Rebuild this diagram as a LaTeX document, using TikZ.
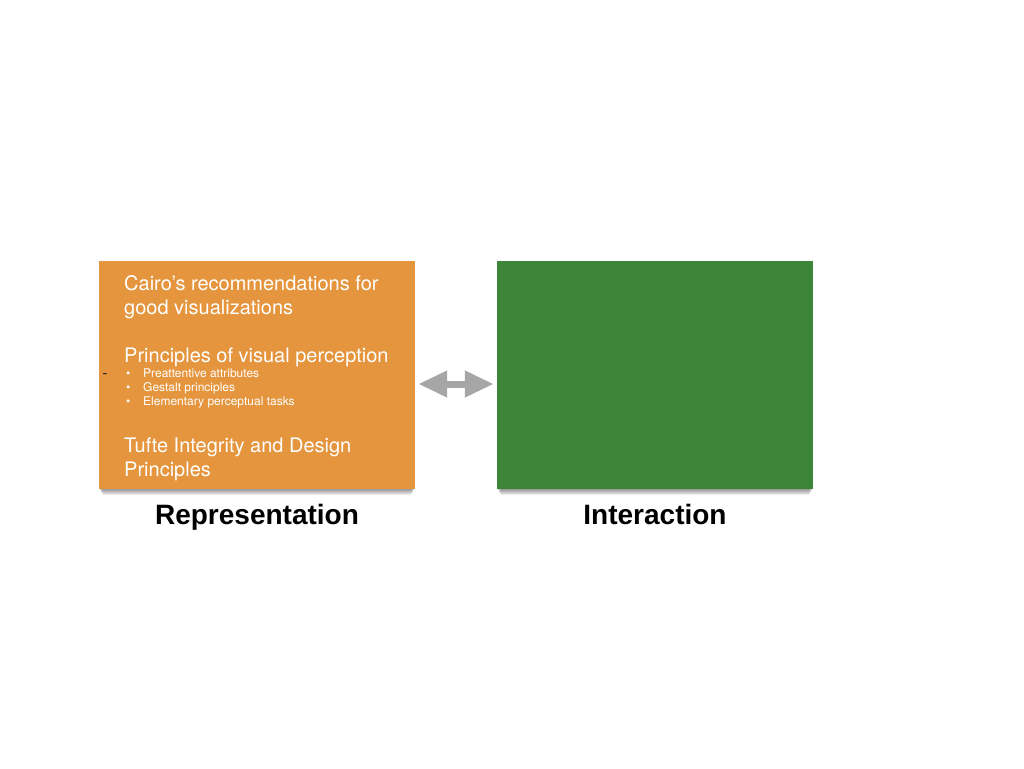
\documentclass[tikz,border=0pt]{standalone}
\usepackage{fontspec}
\setmainfont{TeX Gyre Heros}
\newfontfamily\labelfont{Liberation Sans}
\usetikzlibrary{arrows.meta,positioning}
\definecolor{boxorange}{HTML}{E5953D}
\definecolor{boxgreen}{HTML}{3C8539}
\definecolor{arrowgray}{HTML}{A6A6A6}
\tikzset{
  panel/.style={minimum width=316pt,minimum height=228pt,inner sep=0pt},
  shadowlayer/.style={fill=black,opacity=0.08},
  boxtext/.style={text=white,anchor=base west,inner sep=0pt,font=\fontsize{20}{24}\selectfont},
  bullettext/.style={text=white,anchor=base west,inner sep=0pt,font=\fontsize{12}{14}\selectfont},
  caption/.style={anchor=base,font=\labelfont\bfseries\fontsize{28}{32}\selectfont,text=black},
}
\begin{document}
\begin{tikzpicture}[x=1pt,y=-1pt]
\useasboundingbox[fill=white] (0,0) rectangle (1024,768);
% soft shadows
\foreach \d in {1,2,3,4,5,6}{
  \fill[shadowlayer] (99+\d*0.6,262) rectangle (415-\d*0.6,489+\d);
  \fill[shadowlayer] (497+\d*0.6,262) rectangle (813-\d*0.6,489+\d);
}
\node[panel,fill=boxorange] (rep) at (257,375) {};
\node[panel,fill=boxgreen] (int) at (655,375) {};
\node[boxtext] (t1) at (124,290) {Cairo’s recommendations for};
\node[boxtext] (t2) at (124,314) {good visualizations};
\node[boxtext] (t3) at (124,362) {Principles of visual perception};
\node[bullettext] (b1) at (126,377) {•};
\node[bullettext] (b2) at (126,391) {•};
\node[bullettext] (b3) at (126,405) {•};
\node[bullettext] (s1) at (143,377) {Preattentive attributes};
\node[bullettext] (s2) at (143,391) {Gestalt principles};
\node[bullettext] (s3) at (143,405) {Elementary perceptual tasks};
\node[text=black!85,inner sep=0pt,font=\fontsize{16}{18}\selectfont] (dash) at (105,376) {-};
\node[boxtext] (t4) at (124,452) {Tufte Integrity and Design};
\node[boxtext] (t5) at (124,476) {Principles};
\node[caption] (repl) at (257,524) {Representation};
\node[caption] (intl) at (655,524) {Interaction};
\coordinate (aL) at ([shift={(3,9)}]rep.east);
\coordinate (aR) at ([shift={(-3,9)}]int.west);
\draw[arrowgray,line width=7pt,{Triangle[length=29pt,width=25pt]}-{Triangle[length=29pt,width=25pt]}] (aL) -- (aR);
\end{tikzpicture}
\end{document}
